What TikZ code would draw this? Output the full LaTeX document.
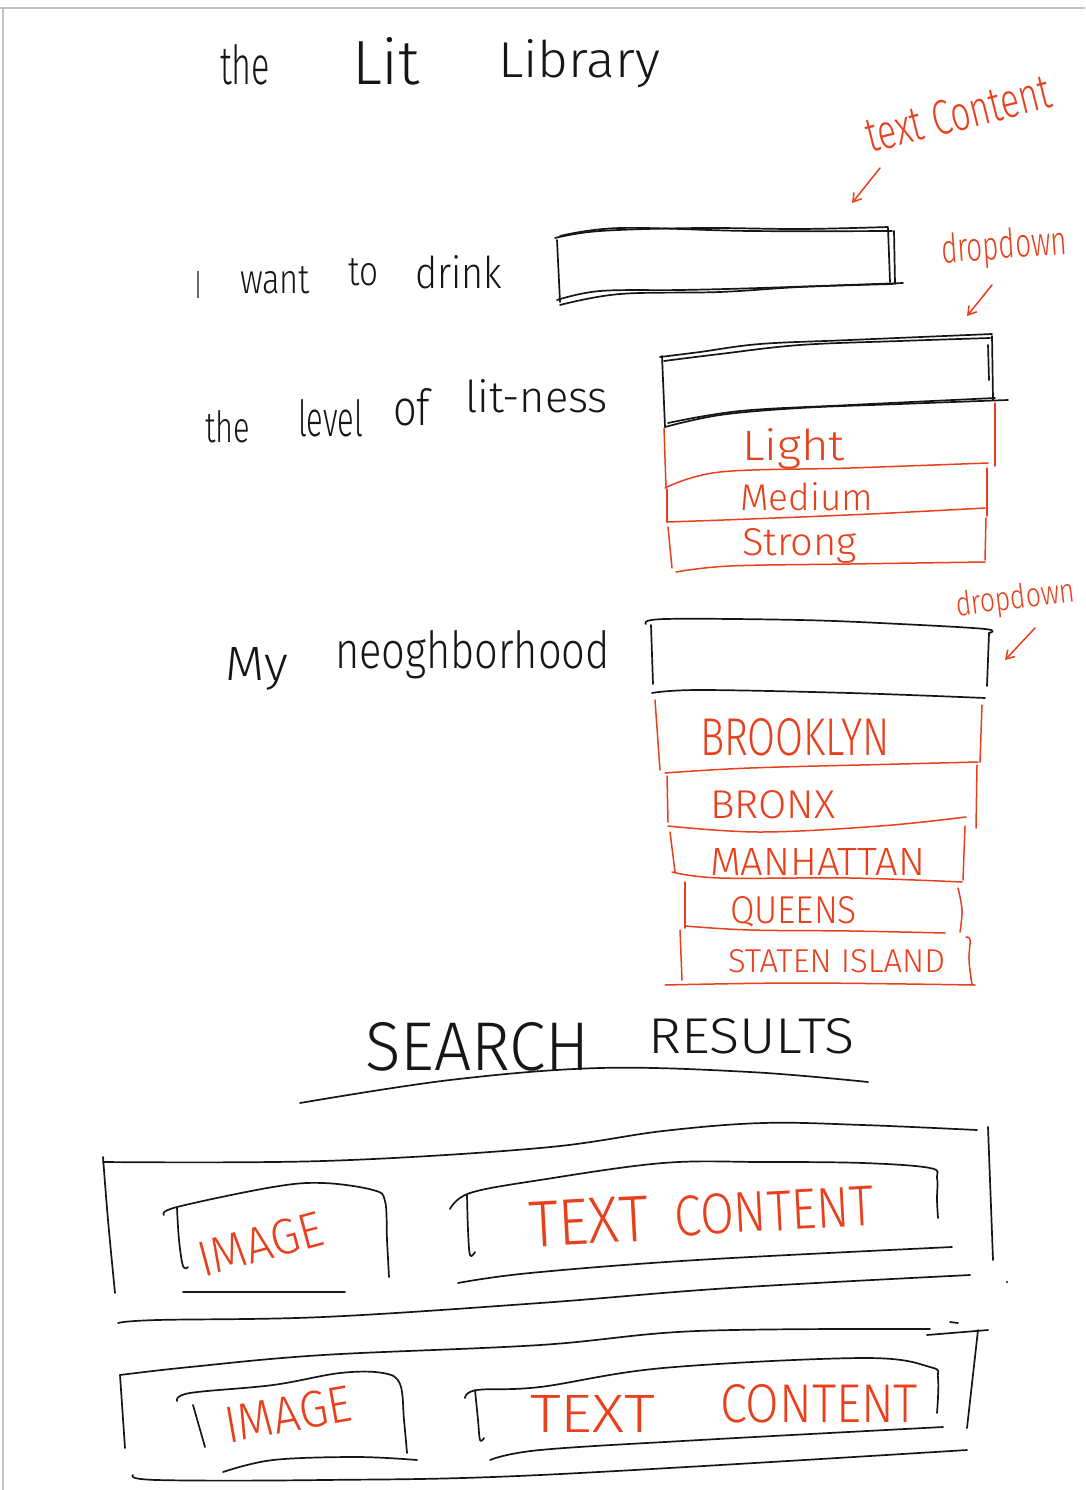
\documentclass[tikz,border=0pt]{standalone}
\usepackage{graphicx}
\usepackage{fontspec}
\setmainfont{Fira Sans Light}
\usetikzlibrary{arrows.meta}

\definecolor{inkblack}{RGB}{22,22,22}
\definecolor{pen}{RGB}{232,64,28}
\definecolor{frame}{RGB}{195,195,195}

% handwritten-style word: width, height above baseline, text
\newcommand\hw[3]{\resizebox{#1pt}{#2pt}{#3}}

\tikzset{
  ink/.style={draw=inkblack, line width=1.7pt, line cap=round, line join=round},
  redink/.style={draw=pen, line width=1.5pt, line cap=round, line join=round},
  lbl/.style={inner sep=0pt, outer sep=0pt, anchor=base west, text=inkblack},
  redlbl/.style={lbl, text=pen},
  tip/.style={-{Straight Barb[length=8pt,width=10pt]}}
}

\begin{document}
\begin{tikzpicture}[x=1pt, y=-1pt]
\useasboundingbox (0,0) rectangle (1085,1490);
\fill[white] (0,0) rectangle (1085,1490);

% page edge
\draw[frame, line width=2pt] (0,8) -- (1085,8);
\draw[frame, line width=2pt] (3,8) -- (3,1490);

% ---------- title ----------
\node[lbl] (tThe) at (220,85) {\hw{50}{40}{the}};
\node[lbl] (tLit) at (352,85) {\hw{68}{47}{Lit}};
\node[lbl] (tLib) at (498,78) {\hw{162}{38}{Library}};

% ---------- first field ----------
\node[lbl] (qI)     at (195,298) {\hw{6}{27}{I}};
\node[lbl] (qWant)  at (240,293) {\hw{70}{27}{want}};
\node[lbl] (qTo)    at (348,285) {\hw{30}{27}{to}};
\node[lbl] (qDrink) at (415,288) {\hw{87}{33}{drink}};

% text input box
\draw[ink] plot[smooth, tension=0.6] coordinates {(555,238) (600,231) (700,228) (800,229) (888,227)};
\draw[ink] plot[smooth, tension=0.6] coordinates {(560,236) (620,228) (750,231) (892,231)};
\draw[ink] (888,228) -- (890,282);
\draw[ink] (894,231) -- (895,284);
\draw[ink] (557,240) -- (560,302);
\draw[ink] plot[smooth, tension=0.6] coordinates {(557,300) (600,291) (680,290) (760,288) (903,283)};
\draw[ink] plot[smooth, tension=0.6] coordinates {(560,305) (620,294) (720,292) (800,287) (893,284)};

% annotation: text content
\node[redlbl, rotate=14] (aText) at (870,153) {\hw{190}{34}{text Content}};
\coordinate (aTextFrom) at (880,168);
\coordinate (aTextTo) at (852,203);
\draw[redink, tip] (aTextFrom) -- (aTextTo);

% annotation: dropdown
\node[redlbl, rotate=4] (aDrop1) at (942,263) {\hw{126}{30}{dropdown}};
\coordinate (aDrop1From) at (992,285);
\coordinate (aDrop1To) at (967,316);
\draw[redink, tip] (aDrop1From) -- (aDrop1To);

% ---------- second field ----------
\node[lbl] (lThe)   at (205,442) {\hw{45}{32}{the}};
\node[lbl] (lLevel) at (298,436) {\hw{65}{37}{level}};
\node[lbl] (lOf)    at (393,425) {\hw{37}{37}{of}};
\node[lbl] (lLit)   at (465,412) {\hw{143}{33}{lit-ness}};

% dropdown box
\draw[ink] plot[smooth, tension=0.6] coordinates {(660,357) (700,352) (760,344) (850,340) (992,334)};
\draw[ink] plot[smooth, tension=0.6] coordinates {(664,361) (720,354) (800,345) (900,341) (990,338)};
\draw[ink] (992,336) -- (993,400);
\draw[ink] (988,345) -- (989,380);
\draw[ink] (662,356) -- (665,427);
\draw[ink] plot[smooth, tension=0.6] coordinates {(665,427) (720,415) (800,408) (900,404) (1008,400)};
\draw[ink] plot[smooth, tension=0.6] coordinates {(668,423) (740,411) (850,405) (995,398)};

% options
\draw[redink] (664,428) -- (666,488);
\draw[redink] (667,489) -- (667,522);
\draw[redink] (668,527) -- (672,568);
\draw[redink] (995,403) -- (995,466);
\draw[redink] (987,468) -- (987,516);
\draw[redink] (986,518) -- (985,560);
\draw[redink] plot[smooth, tension=0.6] coordinates {(665,488) (720,472) (850,468) (988,463)};
\draw[redink] plot[smooth, tension=0.6] coordinates {(667,522) (750,519) (870,514) (985,508)};
\draw[redink] plot[smooth, tension=0.6] coordinates {(676,572) (730,566) (850,564) (985,562)};
\node[redlbl] (oLight)  at (742,460) {\hw{103}{32}{Light}};
\node[redlbl] (oMedium) at (740,510) {\hw{133}{28}{Medium}};
\node[redlbl] (oStrong) at (742,555) {\hw{115}{27}{Strong}};

% ---------- third field ----------
\node[lbl] (nMy)   at (225,680) {\hw{63}{33}{My}};
\node[lbl] (nHood) at (335,668) {\hw{275}{38}{neoghborhood}};

% dropdown box
\draw[ink] plot[smooth, tension=0.6] coordinates {(646,624) (665,619) (800,620) (900,624) (985,629) (989,633)};
\draw[ink] (989,633) -- (987,686);
\draw[ink] (651,625) -- (653,684);
\draw[ink] plot[smooth, tension=0.6] coordinates {(652,693) (700,690) (850,693) (985,698)};

% annotation: dropdown
\node[redlbl, rotate=7] (aDrop2) at (957,616) {\hw{120}{25}{dropdown}};
\coordinate (aDrop2From) at (1035,628);
\coordinate (aDrop2To) at (1005,660);
\draw[redink, tip] (aDrop2From) -- (aDrop2To);

% options
\draw[redink] (655,700) -- (660,770);
\draw[redink] (982,705) -- (980,762);
\draw[redink] plot[smooth, tension=0.6] coordinates {(665,773) (750,768) (900,764) (978,762)};
\draw[redink] (667,776) -- (668,822);
\draw[redink] (977,765) -- (976,828);
\draw[redink] plot[smooth, tension=0.6] coordinates {(668,826) (760,832) (880,826) (966,817)};
\draw[redink] (670,832) -- (675,872);
\draw[redink] (965,826) -- (963,880);
\draw[redink] plot[smooth, tension=0.6] coordinates {(672,872) (720,878) (850,878) (962,882)};
\draw[redink] (685,882) -- (685,928);
\draw[redink] plot[smooth, tension=0.6] coordinates {(958,888) (962,910) (960,932)};
\draw[redink] plot[smooth, tension=0.6] coordinates {(685,926) (750,930) (850,931) (945,933)};
\draw[redink] (680,930) -- (682,980);
\draw[redink] plot[smooth, tension=0.6] coordinates {(966,937) (970,940) (969,960) (972,985)};
\draw[redink] plot[smooth, tension=0.6] coordinates {(665,985) (800,983) (975,985)};
\node[redlbl] (bBrooklyn) at (700,755) {\hw{190}{37}{BROOKLYN}};
\node[redlbl] (bBronx)    at (710,818) {\hw{125}{28}{BRONX}};
\node[redlbl] (bManh)     at (710,875) {\hw{215}{27}{MANHATTAN}};
\node[redlbl] (bQueens)   at (730,923) {\hw{127}{27}{QUEENS}};
\node[redlbl] (bStaten)   at (728,972) {\hw{217}{23}{STATEN ISLAND}};

% ---------- search results ----------
\node[lbl] (sSearch)  at (365,1070) {\hw{225}{48}{SEARCH}};
\node[lbl] (sResults) at (648,1053) {\hw{207}{35}{RESULTS}};
\draw[ink] plot[smooth, tension=0.6] coordinates {(300,1103) (450,1080) (600,1068) (750,1072) (868,1082)};

% result card 1
\draw[ink] plot[smooth, tension=0.6] coordinates {(103,1162) (323,1161) (540,1148) (663,1131) (763,1123) (863,1125) (977,1130)};
\draw[ink] plot[smooth, tension=0.6] coordinates {(103,1157) (108,1220) (115,1293)};
\draw[ink] (988,1127) -- (993,1260);
\draw[ink] plot[smooth, tension=0.6] coordinates {(164,1215) (177,1207) (273,1187) (323,1183) (373,1190) (385,1201) (387,1240) (389,1277)};
\draw[ink] plot[smooth, tension=0.6] coordinates {(177,1208) (179,1240) (183,1266) (188,1267)};
\draw[ink] (183,1292) -- (345,1292);
\draw[ink] plot[smooth, tension=0.6] coordinates {(450,1209) (470,1193) (540,1180) (663,1163) (763,1162) (863,1163) (930,1168) (937,1178) (937,1200) (938,1218)};
\draw[ink] plot[smooth, tension=0.6] coordinates {(467,1195) (468,1230) (470,1255) (475,1252)};
\draw[ink] plot[smooth, tension=0.6] coordinates {(458,1283) (530,1273) (697,1260) (952,1247)};
\draw[ink] plot[smooth, tension=0.6] coordinates {(118,1323) (157,1320) (323,1317) (540,1303) (730,1288) (970,1275)};
\fill[inkblack] (1007,1282) circle (1.2pt);
\node[redlbl, rotate=15] (cImage1) at (203,1277) {\hw{128}{35}{IMAGE}};
\node[redlbl, rotate=3] (cText1)    at (530,1247) {\hw{120}{45}{TEXT}};
\node[redlbl, rotate=3] (cContent1) at (675,1236) {\hw{200}{40}{CONTENT}};

% result card 2
\draw[ink] plot[smooth, tension=0.6] coordinates {(120,1375) (190,1367) (323,1355) (540,1345) (697,1331) (930,1329)};
\draw[ink] (927,1335) -- (988,1330);
\draw[ink] (950,1322) -- (958,1323);
\draw[ink] (120,1375) -- (125,1448);
\draw[ink] (978,1330) -- (967,1428);
\draw[ink] plot[smooth, tension=0.6] coordinates {(177,1401) (190,1393) (273,1385) (340,1373) (383,1373) (400,1384) (404,1420) (407,1453)};
\draw[ink] (193,1405) -- (205,1447);
\draw[ink] plot[smooth, tension=0.6] coordinates {(223,1472) (273,1460) (357,1457) (417,1460)};
\draw[ink] plot[smooth, tension=0.6] coordinates {(465,1398) (477,1390) (540,1387) (663,1368) (863,1358) (930,1367) (938,1378) (937,1413)};
\draw[ink] plot[smooth, tension=0.6] coordinates {(475,1390) (478,1420) (480,1440) (484,1438)};
\draw[ink] plot[smooth, tension=0.6] coordinates {(490,1460) (540,1450) (700,1440) (943,1427)};
\draw[ink] plot[smooth, tension=0.6] coordinates {(133,1475) (157,1480) (323,1480) (540,1475) (967,1450)};
\node[redlbl, rotate=10] (cImage2) at (228,1443) {\hw{128}{36}{IMAGE}};
\node[redlbl] (cText2)    at (530,1432) {\hw{125}{37}{TEXT}};
\node[redlbl] (cContent2) at (720,1422) {\hw{198}{38}{CONTENT}};
\end{tikzpicture}
\end{document}
